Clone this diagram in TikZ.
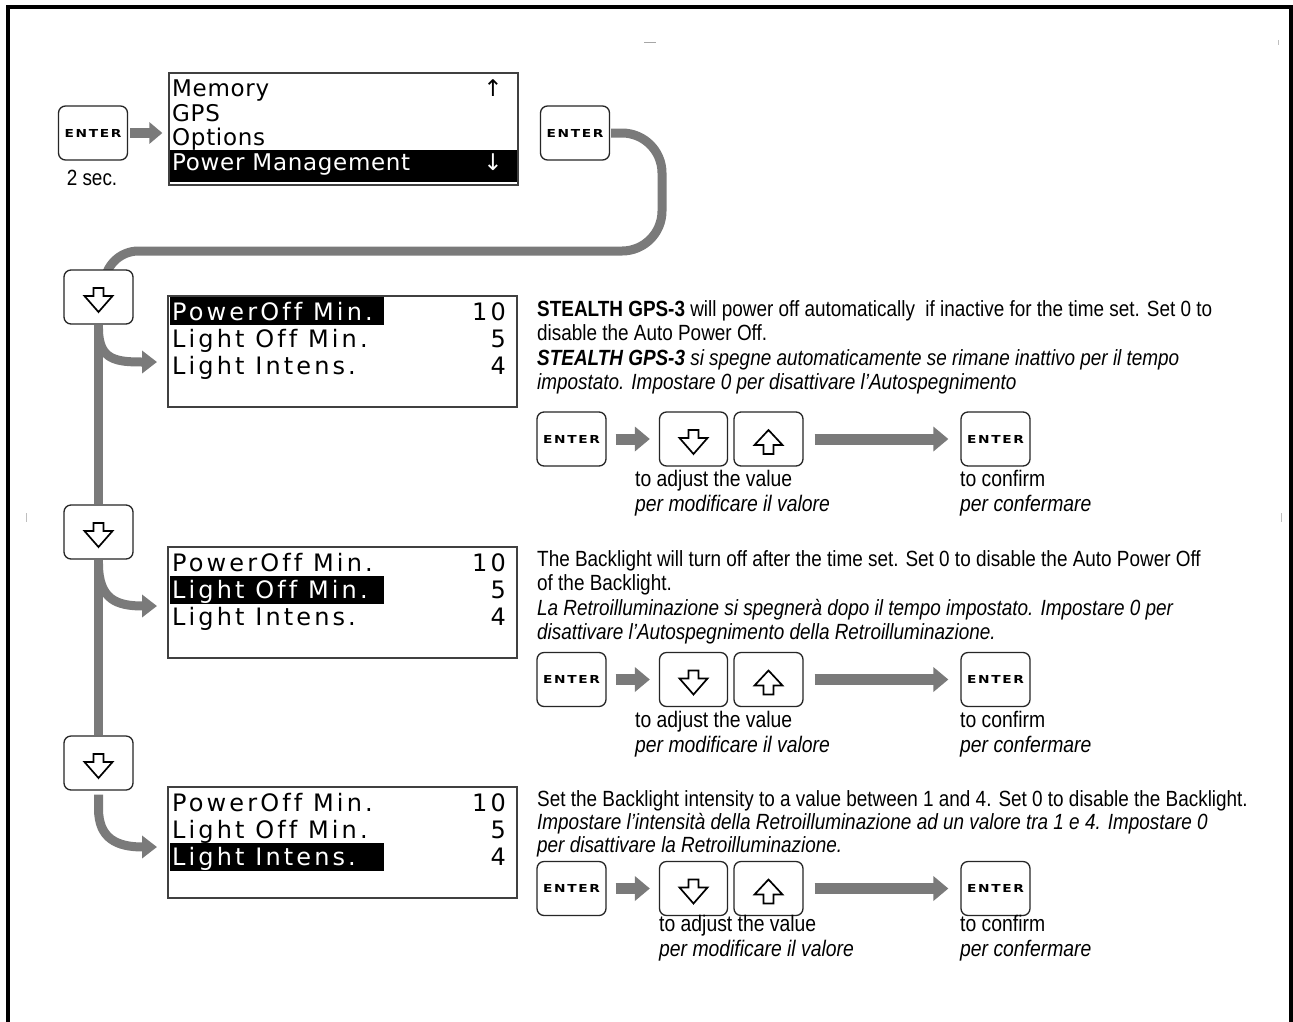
\documentclass[tikz,border=0pt]{standalone}
\usepackage{fontspec}
\usetikzlibrary{arrows.meta,backgrounds,calc}
\setmainfont{Liberation Sans}
\newfontfamily\narrowfont[FakeStretch=0.86]{Liberation Sans}
\newfontfamily\lcdfont[LetterSpace=13,Ligatures=NoCommon]{DejaVu Sans}
\newfontfamily\menufont[LetterSpace=3,Ligatures=NoCommon]{DejaVu Sans}
\newfontfamily\entfont[FakeStretch=1.25,LetterSpace=15]{DejaVu Sans Bold}
\tikzset{
  btn/.style={draw=black!85, line width=1.3pt, rounded corners=7pt, fill=white,
    minimum width=69pt, minimum height=54pt, inner sep=0pt, font=\entfont\fontsize{11}{11}\selectfont},
  screen/.style={draw=black!75, line width=1.3pt, fill=white, minimum width=349pt, minimum height=111pt, inner sep=0pt},
  scrtxt/.style={inner sep=0pt, font=\lcdfont\fontsize{24}{24}\selectfont},
  menutxt/.style={inner sep=0pt, font=\menufont\fontsize{23}{23}\selectfont},
  body/.style={inner sep=0pt, align=left, anchor=north west, font=\narrowfont\fontsize{22}{24.5}\selectfont},
  lbl/.style={inner sep=0pt, align=left, anchor=north west, font=\narrowfont\fontsize{22.5}{25}\selectfont},
  flow/.style={draw=black!52, line width=9pt},
  flowtip/.style={-{Triangle[length=15pt,width=22pt]}},
  garrow/.style={draw=black!52, line width=11pt, -{Triangle[length=15pt,width=24pt]}},
  glyph/.style={draw=black, line width=1.7pt, line join=miter, fill=white},
}
\newcommand\dglyph[1]{\draw[glyph] ([shift={(-5,-9)}]#1.center) -- ++(10,0) -- ++(0,8) -- ++(9,0) -- ++(-14,16) -- ++(-14,-16) -- ++(9,0) -- cycle;}
\newcommand\uglyph[1]{\draw[glyph] ([shift={(-5,15)}]#1.center) -- ++(10,0) -- ++(0,-9) -- ++(9,0) -- ++(-14,-15) -- ++(-14,15) -- ++(9,0) -- cycle;}
\newcommand\lcdscreen[3]{%
  \node[screen] (#1) at (342.5,{#2+55.5}) {};
  \fill (170,{#2+1+27.5*(#3-1)}) rectangle (384,{#2+29+27.5*(#3-1)});
  \foreach \rr/\lbl/\val in {1/PowerOff Min./10, 2/Light Off Min./5, 3/Light Intens./4}{
    \ifnum\rr=#3 \def\tc{white}\else\def\tc{black}\fi
    \node[scrtxt, text=\tc, anchor=base west] (#1-l\rr) at (172,{#2+24+27.2*(\rr-1)}) {\lbl};
    \node[scrtxt, anchor=base east] (#1-v\rr) at (506,{#2+24+27.2*(\rr-1)}) {\val};
  }%
}
% row of buttons: #1 prefix, #2 y centre
\newcommand\btnrow[2]{%
  \node[btn] (#1ea) at (571.5,#2) {ENTER};
  \node[btn, minimum width=68pt] (#1dn) at (693.5,#2) {};
  \node[btn, minimum width=69pt] (#1up) at (768.5,#2) {};
  \node[btn] (#1eb) at (995.5,#2) {ENTER};
  \dglyph{#1dn}
  \uglyph{#1up}
  \draw[garrow, shorten <=9pt, shorten >=9pt] (#1ea.east) -- (#1dn.west);
  \draw[garrow, shorten <=11pt, shorten >=12pt] (#1up.east) -- (#1eb.west);
}
\begin{document}
\begin{tikzpicture}[x=1pt,y=-1pt]
\useasboundingbox (0,0) rectangle (1293,1021);
\begin{scope}[on background layer]
\fill[white] (0,0) rectangle (1293,1021);
\end{scope}
% frame
\draw[line width=3.5pt] (8,1030) -- (8,7) -- (1291,7) -- (1291,1030);
\draw[black!35, line width=1pt] (644,42) -- (656,42);
\draw[black!25, line width=1pt] (1278,40) -- (1278,45);
\draw[black!25, line width=1pt] (26,513) -- (26,522);
\draw[black!25, line width=1pt] (1281,513) -- (1281,522);

% top row
\node[btn] (e1) at (93,133) {ENTER};
\node[inner sep=0pt, font=\narrowfont\fontsize{22}{22}\selectfont] (sec) at (92,178) {2 sec.};
\node[draw=black!75, line width=1.3pt, minimum width=349pt, minimum height=112pt, inner sep=0pt] (menu) at (343.5,129) {};
\fill (170,150) rectangle (517,182);
\node[menutxt, anchor=base west] (m1) at (172,96) {Memory};
\node[menutxt, anchor=base west] (m2) at (172,121) {GPS};
\node[menutxt, anchor=base west] (m3) at (172,145) {Options};
\node[menutxt, anchor=base west, text=white] (m4) at (172,170) {Power Management};
\node[menutxt, anchor=base] (mu) at (493,96) {↑};
\node[menutxt, anchor=base, text=white] (md) at (493,170) {↓};
\draw[draw=black!52, line width=10pt, -{Triangle[length=13pt,width=21pt]}, shorten <=2pt, shorten >=6pt] (e1.east) -- (menu.west |- e1.east);
\node[btn] (e2) at (575,133) {ENTER};

% left column
\node[btn] (d1) at (98.5,297) {};
\node[btn] (d2) at (98.5,532) {};
\node[btn] (d3) at (98.5,763) {};
\dglyph{d1}
\dglyph{d2}
\dglyph{d3}

% screens
\lcdscreen{s1}{296}{1}
\lcdscreen{s2}{547}{2}
\lcdscreen{s3}{787}{3}

\coordinate (t1) at (157,362);
\coordinate (t2) at (157,606);
\coordinate (t3) at (157,847);
\coordinate (ctop) at (662,251);
\coordinate (cin) at ($(d1.north)+(6,30)$);

\begin{scope}[on background layer]
  \draw[flow, rounded corners=40pt] ([xshift=1pt]e2.east) -| (ctop) [rounded corners=34pt] -| (cin);
  \draw[flow] (d1.south) -- (d2.north);
  \draw[flow] (d2.south) -- (d3.north);
  \draw[flow, flowtip] ([yshift=-4pt]d1.south) .. controls +(0,32) and +(-40,0) .. (t1);
  \draw[flow, flowtip] ([yshift=-4pt]d2.south) .. controls +(0,36) and +(-40,0) .. (t2);
  \draw[flow, flowtip] ([yshift=-4pt]d3.south) -- ++(0,14) .. controls +(0,30) and +(-40,0) .. (t3);
\end{scope}

% text block 1
\node[body] (b1) at (537,300) {\textbf{STEALTH GPS-3} will power off automatically\ \ if inactive for the time set. Set 0 to\\
disable the Auto Power Off.\\
\textit{\textbf{STEALTH GPS-3} si spegne automaticamente se rimane inattivo per il tempo}\\
\textit{impostato. Impostare 0 per disattivare l’Autospegnimento}};
\btnrow{ra}{439}
\node[lbl] (la1) at (635,470) {to adjust the value\\\textit{per modificare il valore}};
\node[lbl] (lc1) at (960,470) {to confirm\\\textit{per confermare}};

% text block 2
\node[body] (b2) at (537,550) {The Backlight will turn off after the time set. Set 0 to disable the Auto Power Off\\
of the Backlight.\\
\textit{La Retroilluminazione si spegnerà dopo il tempo impostato. Impostare 0 per}\\
\textit{disattivare l’Autospegnimento della Retroilluminazione.}};
\btnrow{rb}{679.5}
\node[lbl] (la2) at (635,711) {to adjust the value\\\textit{per modificare il valore}};
\node[lbl] (lc2) at (960,711) {to confirm\\\textit{per confermare}};

% text block 3
\node[body, font=\narrowfont\fontsize{22}{23}\selectfont] (b3) at (537,790) {Set the Backlight intensity to a value between 1 and 4. Set 0 to disable the Backlight.\\
\textit{Impostare l’intensità della Retroilluminazione ad un valore tra 1 e 4. Impostare 0}\\
\textit{per disattivare la Retroilluminazione.}};
\btnrow{rc}{888.5}
\node[lbl] (la3) at (659,915) {to adjust the value\\\textit{per modificare il valore}};
\node[lbl] (lc3) at (960,915) {to confirm\\\textit{per confermare}};
\end{tikzpicture}
\end{document}
